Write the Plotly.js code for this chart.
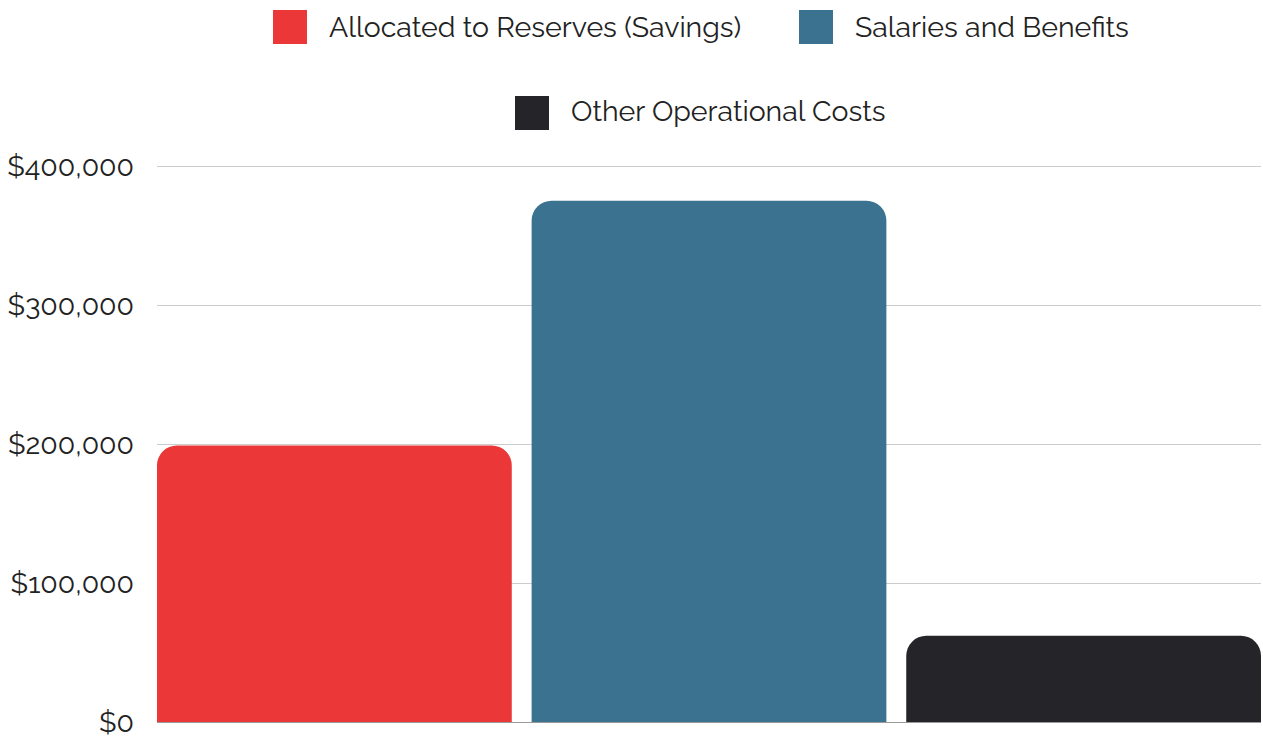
<!DOCTYPE html>
<html>
<head>
<meta charset="utf-8">
<script src="https://cdn.plot.ly/plotly-3.0.1.min.js"></script>
<style>html,body{margin:0;padding:0;background:#fff;}#chart{width:1263px;height:740px;}</style>
</head>
<body>
<div id="chart"></div>
<script>
const categories = ["Allocated to Reserves (Savings)", "Salaries and Benefits", "Other Operational Costs"];
const values = [199000, 375000, 62000];
const colors = ["#EB3738", "#3A728F", "#252429"];
const tickValues = [0, 100000, 200000, 300000, 400000];
const tickLabels = ["$0", "$100,000", "$200,000", "$300,000", "$400,000"];

const FONT = "Raleway, Lato, 'Open Sans', sans-serif";
const FS = 28.5;

const traces = categories.map((c, i) => ({
  type: "bar",
  name: c,
  x: [c],
  y: [values[i]],
  marker: {color: colors[i], cornerradius: 20, line: {width: 0}},
  showlegend: false,
  hoverinfo: "skip"
}));

// Custom legend (large squares) built from the category/color arrays
const W = 1263, H = 740;
const PL = 157, PR = 1261, PT = 158, PB = 722;
const Y400 = 166;
const legendPos = [
  {sx: 273, sy: 10, ty: 27, tx: 327},
  {sx: 799, sy: 10, ty: 27, tx: 853},
  {sx: 515, sy: 96, ty: 111, tx: 569}
];
const shapes = [];
const annotations = [];
categories.forEach((c, i) => {
  const p = legendPos[i];
  shapes.push({
    type: "rect", xref: "paper", yref: "paper", layer: "above",
    x0: (p.sx - PL) / (PR - PL), x1: (p.sx + 34 - PL) / (PR - PL),
    y0: (PB - (p.sy + 34)) / (PB - PT), y1: (PB - p.sy) / (PB - PT),
    fillcolor: colors[i], line: {width: 0}
  });
  annotations.push({
    xref: "paper", yref: "paper", showarrow: false,
    x: (p.tx - PL) / (PR - PL), xanchor: "left",
    y: (PB - p.ty) / (PB - PT), yanchor: "middle",
    text: c, font: {family: FONT, size: FS, color: "#222"}
  });
});

const layout = {
  width: W, height: H,
  margin: {l: PL, r: W - PR, t: PT, b: H - PB},
  paper_bgcolor: "#fff", plot_bgcolor: "#fff",
  barmode: "overlay",
  bargap: 0.053,
  showlegend: false,
  font: {family: FONT, size: FS, color: "#222"},
  xaxis: {
    type: "category",
    range: [-0.4735, 2.4735],
    showticklabels: false, showgrid: false, zeroline: false,
    showline: false, ticks: "", fixedrange: true
  },
  yaxis: {
    range: [0, 400000 * (PB - PT) / (PB - Y400)],
    tickvals: tickValues, ticktext: tickLabels,
    showgrid: true, gridcolor: "#cccccc", gridwidth: 1,
    zeroline: true, zerolinecolor: "#999999", zerolinewidth: 1,
    showline: false, ticks: "", ticklabelstandoff: 22,
    tickfont: {family: FONT, size: FS, color: "#222"},
    fixedrange: true
  },
  shapes: shapes,
  annotations: annotations
};

Plotly.newPlot("chart", traces, layout, {displayModeBar: false, staticPlot: true});
</script>
</body>
</html>
